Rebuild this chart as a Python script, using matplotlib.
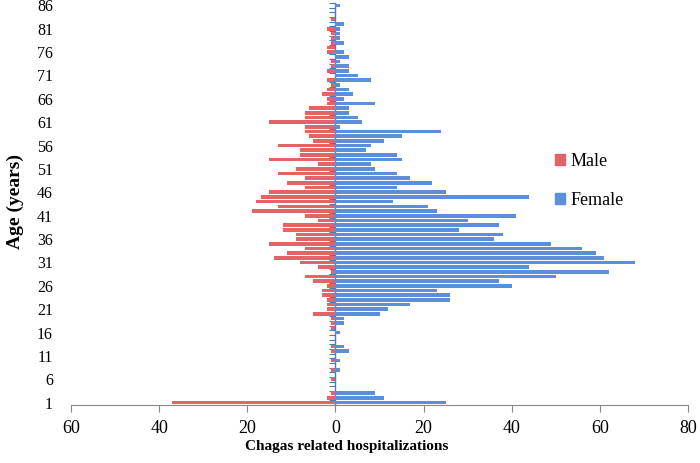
import matplotlib
matplotlib.use("Agg")
import matplotlib.pyplot as plt
from matplotlib.patches import Patch
import numpy as np

ages = list(range(1, 87))
male = [37, 2, 1, 0, 0, 1, 0, 1, 0, 1,
        0, 1, 1, 0, 0, 0, 1, 1, 1, 5,
        2, 2, 2, 3, 3, 2, 5, 7, 1, 4,
        8, 14, 11, 7, 15, 9, 9, 12, 12, 4,
        7, 19, 13, 18, 17, 15, 7, 11, 7, 13,
        9, 4, 15, 8, 8, 13, 5, 6, 7, 7,
        15, 7, 7, 6, 2, 2, 3, 2, 1, 2,
        0, 2, 1, 1, 0, 2, 2, 1, 1, 1,
        2, 0, 1, 0, 0, 0]
female = [25, 11, 9, 0, 0, 0, 0, 1, 0, 1,
          0, 3, 2, 0, 0, 1, 0, 2, 2, 10,
          12, 17, 26, 26, 23, 40, 37, 50, 62, 44,
          68, 61, 59, 56, 49, 36, 38, 28, 37, 30,
          41, 23, 21, 13, 44, 25, 14, 22, 17, 14,
          9, 8, 15, 14, 7, 8, 11, 15, 24, 1,
          6, 5, 3, 3, 9, 2, 4, 3, 1, 8,
          5, 3, 3, 1, 3, 2, 0, 2, 1, 1,
          1, 2, 0, 0, 0, 1]
x_ticks = [-60, -40, -20, 0, 20, 40, 60, 80]
x_tick_labels = [str(abs(v)) for v in x_ticks]
y_label_ages = list(range(1, 87, 5))

male_color = "#E36467"
female_color = "#5B8FDC"
serif = ["Liberation Serif", "DejaVu Serif"]

fig = plt.figure(figsize=(7.0, 4.63), dpi=100)
ax = fig.add_axes([0.1014, 0.1253, 0.8816, 0.8682])

ages_arr = np.array(ages)
ax.barh(ages_arr, -np.array(male), height=0.78, color=male_color, label="Male")
ax.barh(ages_arr, np.array(female), height=0.78, color=female_color, label="Female")

xmin, xmax = -60, 80
ax.set_xlim(xmin, xmax)
ax.set_ylim(0.5, 86.5)

# x axis
ax.set_xticks(x_ticks)
ax.set_xticklabels(x_tick_labels, fontfamily=serif, fontsize=13)
ax.tick_params(axis="x", direction="out", length=5, color="#888888", pad=6)
for s in ["top", "right", "left"]:
    ax.spines[s].set_visible(False)
ax.spines["bottom"].set_color("#888888")

# y tick labels on the left (no spine)
ax.set_yticks(y_label_ages)
ax.set_yticklabels([str(a) for a in y_label_ages], fontfamily=serif, fontsize=11.5)
ax.tick_params(axis="y", length=0, pad=13)

# central axis with category tick marks
sec = ax.secondary_yaxis((0 - xmin) / (xmax - xmin))
sec.set_yticks(np.arange(0.5, 87, 1.0))
sec.set_yticklabels([])
sec.tick_params(axis="y", direction="out", length=4, color="#4A7EBB", width=0.8)
sec.spines["left"].set_color("#4A7EBB")
sec.spines["left"].set_linewidth(1.0)

ax.set_xlabel("Chagas related hospitalizations", fontfamily=serif, fontsize=11,
              fontweight="bold")
ax.xaxis.set_label_coords(0.447, -0.088)
ax.set_ylabel("Age (years)", fontfamily=serif, fontsize=14, fontweight="bold")
ax.yaxis.set_label_coords(-0.076, 0.505)

handles = [Patch(color=male_color, label="Male"), Patch(color=female_color, label="Female")]
leg = ax.legend(handles=handles, loc="upper left", bbox_to_anchor=(0.758, 0.668),
                frameon=False, prop={"family": serif, "size": 13},
                handlelength=0.55, handleheight=0.55, handletextpad=0.3, labelspacing=1.25)

fig.savefig("out.png", dpi=100)
